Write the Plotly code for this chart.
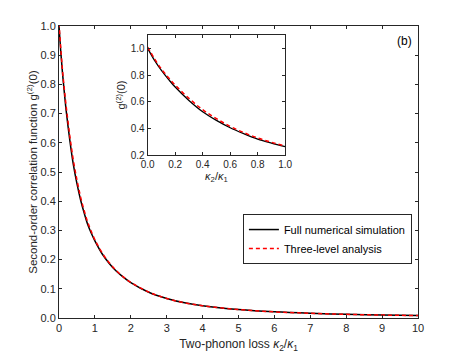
import plotly.graph_objects as go

# kappa2/kappa1 samples and g2(0)
kappa = [0, 0.05, 0.1, 0.15, 0.2, 0.3, 0.4, 0.5, 0.6, 0.7, 0.8, 0.9, 1.0,
         1.2, 1.4, 1.6, 1.8, 2.0, 2.5, 3, 3.5, 4, 5, 6, 7, 8, 9, 10]
g2_full = [1.0, 0.91, 0.835, 0.77, 0.71, 0.61, 0.525, 0.46, 0.405, 0.36, 0.32, 0.29, 0.264,
           0.22, 0.187, 0.16, 0.139, 0.121, 0.088, 0.067, 0.052, 0.042, 0.029, 0.021,
           0.016, 0.0125, 0.010, 0.0085]
g2_three = [1.01, 0.922, 0.845, 0.782, 0.725, 0.625, 0.54, 0.473, 0.415, 0.368, 0.328, 0.296, 0.268,
            0.223, 0.189, 0.162, 0.14, 0.122, 0.089, 0.067, 0.052, 0.042, 0.029, 0.021,
            0.016, 0.0125, 0.010, 0.0085]

inset_k = [k for k in kappa if k <= 1.0]
inset_full = g2_full[:len(inset_k)]
inset_three = g2_three[:len(inset_k)]

TXT = "#262626"
FONT = "Liberation Sans, Arial, sans-serif"

fig = go.Figure()

# main panel
fig.add_trace(go.Scatter(x=kappa, y=g2_full, mode="lines", line_shape="spline",
                         line=dict(color="black", width=1.5),
                         name="Full numerical simulation"))
fig.add_trace(go.Scatter(x=kappa, y=g2_three, mode="lines", line_shape="spline",
                         line=dict(color="#ff0000", width=1.5, dash="4px,3px"),
                         name="Three-level analysis"))

# inset
fig.add_trace(go.Scatter(x=inset_k, y=inset_full, mode="lines", line_shape="spline",
                         line=dict(color="black", width=1.3), showlegend=False,
                         xaxis="x2", yaxis="y2"))
fig.add_trace(go.Scatter(x=inset_k, y=inset_three, mode="lines", line_shape="spline",
                         line=dict(color="#ff0000", width=1.5, dash="4px,3px"), showlegend=False,
                         xaxis="x2", yaxis="y2"))

axis_common = dict(showline=True, linecolor=TXT, linewidth=1, mirror="allticks",
                   ticks="inside", ticklen=3, tickcolor=TXT, showgrid=False,
                   zeroline=False, automargin=False, tickfont=dict(size=11, color=TXT))
inset_tf = dict(size=10, color=TXT)

# page body adds an 8px offset, so the figure is sized 8px smaller
fig.update_layout(
    width=455, height=350,
    margin=dict(l=51, r=45, t=18, b=40),
    paper_bgcolor="white", plot_bgcolor="white",
    font=dict(family=FONT, color=TXT),
    xaxis=dict(axis_common, range=[0, 10], dtick=1, domain=[0, 1],
               title=dict(text="Two-phonon loss <i>κ</i><sub>2</sub>/<i>κ</i><sub>1</sub>",
                          font=dict(size=12), standoff=6)),
    yaxis=dict(axis_common, range=[0, 1], dtick=0.1, tickformat=".1f", domain=[0, 1],
               title=dict(text="Second-order correlation function g<sup>(2)</sup>(0)",
                          font=dict(size=11.5), standoff=0)),
    xaxis2=dict(axis_common, range=[0, 1], dtick=0.2, tickformat=".1f",
                domain=[0.247, 0.630], anchor="y2", tickfont=inset_tf,
                title=dict(text="<i>κ</i><sub>2</sub>/<i>κ</i><sub>1</sub>",
                           font=dict(size=11), standoff=0)),
    yaxis2=dict(axis_common, range=[0.2, 1.1], tickvals=[0.2, 0.4, 0.6, 0.8, 1.0],
                tickformat=".1f", domain=[0.558, 0.969], anchor="x2", tickfont=inset_tf,
                title=dict(text="g<sup>(2)</sup>(0)", font=dict(size=11), standoff=2)),
    legend=dict(x=0.983, y=0.356, xanchor="right", yanchor="top",
                bgcolor="white", bordercolor=TXT, borderwidth=1,
                font=dict(size=11, color="black"), tracegroupgap=0,
                itemwidth=30),
    showlegend=True,
    annotations=[dict(text="(b)", x=0.99, y=0.98, xref="paper", yref="paper",
                      xanchor="right", yanchor="top", showarrow=False,
                      font=dict(size=12, color="black"))],
)

fig.write_html("out.html")
